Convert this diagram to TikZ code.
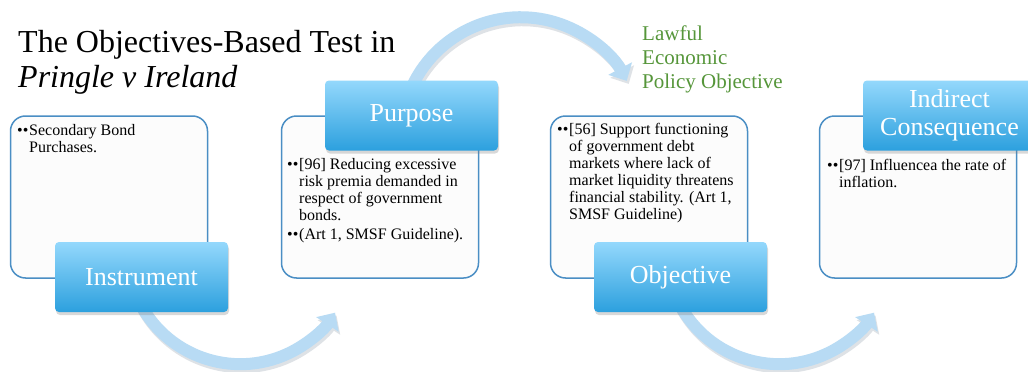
\documentclass[tikz,border=0pt]{standalone}
\usepackage{fontspec}
\setmainfont{Liberation Serif}
\usetikzlibrary{arrows.meta, shadows, backgrounds}
\definecolor{boxBlue}{RGB}{74,142,196}
\definecolor{boxFill}{RGB}{252,252,252}
\definecolor{tagTop}{RGB}{148,216,252}
\definecolor{tagBottom}{RGB}{44,160,222}
\definecolor{arrowBlue}{RGB}{184,219,244}
\definecolor{arrowShade}{RGB}{222,226,230}
\definecolor{lawGreen}{RGB}{86,150,58}
\newcommand{\bul}[2]{\makebox[12pt][l]{••}\parbox[t]{#1}{\raggedright #2}}
\tikzset{
  ob/body/.style={rectangle, rounded corners=15pt, draw=boxBlue, fill=boxFill,
    line width=1.5pt, minimum width=197pt, minimum height=162pt},
  ob/tag/.style={rectangle, rounded corners=4pt, top color=tagTop,
    bottom color=tagBottom, minimum width=173pt, minimum height=70pt,
    font=\fontsize{26}{28}\selectfont, text=white, align=center,
    drop shadow={shadow xshift=1pt, shadow yshift=-3pt, opacity=0.3}},
  ob/txt/.style={anchor=base west, inner sep=0pt,
    font=\fontsize{16}{17}\selectfont},
  ob/title/.style={anchor=base west, inner sep=0pt,
    font=\fontsize{32}{36}\selectfont},
  ob/law/.style={anchor=base west, inner sep=0pt,
    font=\fontsize{21}{24}\selectfont, text=lawGreen},
  ob/arr/.style={-{Triangle[width=26pt,length=14pt]}, line width=12pt,
    draw=arrowBlue},
  ob/shd/.style={-{Triangle[width=26pt,length=14pt]}, line width=12pt,
    draw=arrowShade}
}
\begin{document}
\begin{tikzpicture}[x=1pt, y=1pt]
  \useasboundingbox (0,0) rectangle (1028,-372);

  % Titulo
  \node[ob/title] (t1) at (18,-52) {The Objectives-Based Test in};
  \node[ob/title, font=\fontsize{32}{36}\selectfont\itshape] (t2) at (18,-87)
        {Pringle v Ireland};

  % Cajas de contenido
  \node[ob/body] (b1) at (109,-197) {};
  \node[ob/body] (b2) at (380,-197) {};
  \node[ob/body] (b3) at (649,-197) {};
  \node[ob/body] (b4) at (918,-197) {};

  % Etiquetas
  \node[ob/tag] (ins) at (141.5,-277)  {Instrument};
  \node[ob/tag] (pur) at (411.5,-115.5) {Purpose};
  \node[ob/tag] (obj) at (680.5,-277)  {Objective};
  \node[ob/tag] (ind) at (949.5,-115.5) {Indirect\\Consequence};

  % Textos de las cajas
  \node[ob/txt] (x1)  at (17,-135)  {\bul{170pt}{Secondary Bond\\Purchases.}};
  \node[ob/txt] (x2a) at (287,-169) {\bul{170pt}{[96] Reducing excessive\\
        risk premia demanded in\\respect of government\\bonds.}};
  \node[ob/txt] (x2b) at (287,-239) {\bul{170pt}{(Art 1, SMSF Guideline).}};
  \node[ob/txt] (x3)  at (557,-134) {\bul{175pt}{[56] Support functioning\\
        of government debt\\markets where lack of\\market liquidity threatens\\
        financial stability. (Art 1,\\SMSF Guideline)}};
  \node[ob/txt] (x4)  at (827,-170) {\bul{175pt}{[97] Influencea the rate of\\
        inflation.}};

  % Objetivo licito
  \node[ob/law] (law) at (642,-40) {\parbox[t]{150pt}{\raggedright
        Lawful\\Economic\\Policy Objective}};

  % --- Flechas curvas (detras de las cajas) ---
  \begin{scope}[on background layer]
    \fill[white] (0,0) rectangle (1028,-372);
    \draw[ob/shd] ([xshift=0.5pt,yshift=5pt]ins.south)
          arc[start angle=208, end angle=327, radius=113pt];
    \draw[ob/arr] ([xshift=-1pt,yshift=8pt]ins.south)
          arc[start angle=208, end angle=327, radius=113pt];
    \draw[ob/shd] ([xshift=0pt,yshift=-15pt]pur.north)
          arc[start angle=158, end angle=28, radius=120pt];
    \draw[ob/arr] ([xshift=-2pt,yshift=-12pt]pur.north)
          arc[start angle=158, end angle=28, radius=120pt];
    \draw[ob/shd] ([xshift=0.5pt,yshift=5pt]obj.south)
          arc[start angle=208, end angle=327, radius=113pt];
    \draw[ob/arr] ([xshift=-1pt,yshift=8pt]obj.south)
          arc[start angle=208, end angle=327, radius=113pt];
  \end{scope}
\end{tikzpicture}
\end{document}
